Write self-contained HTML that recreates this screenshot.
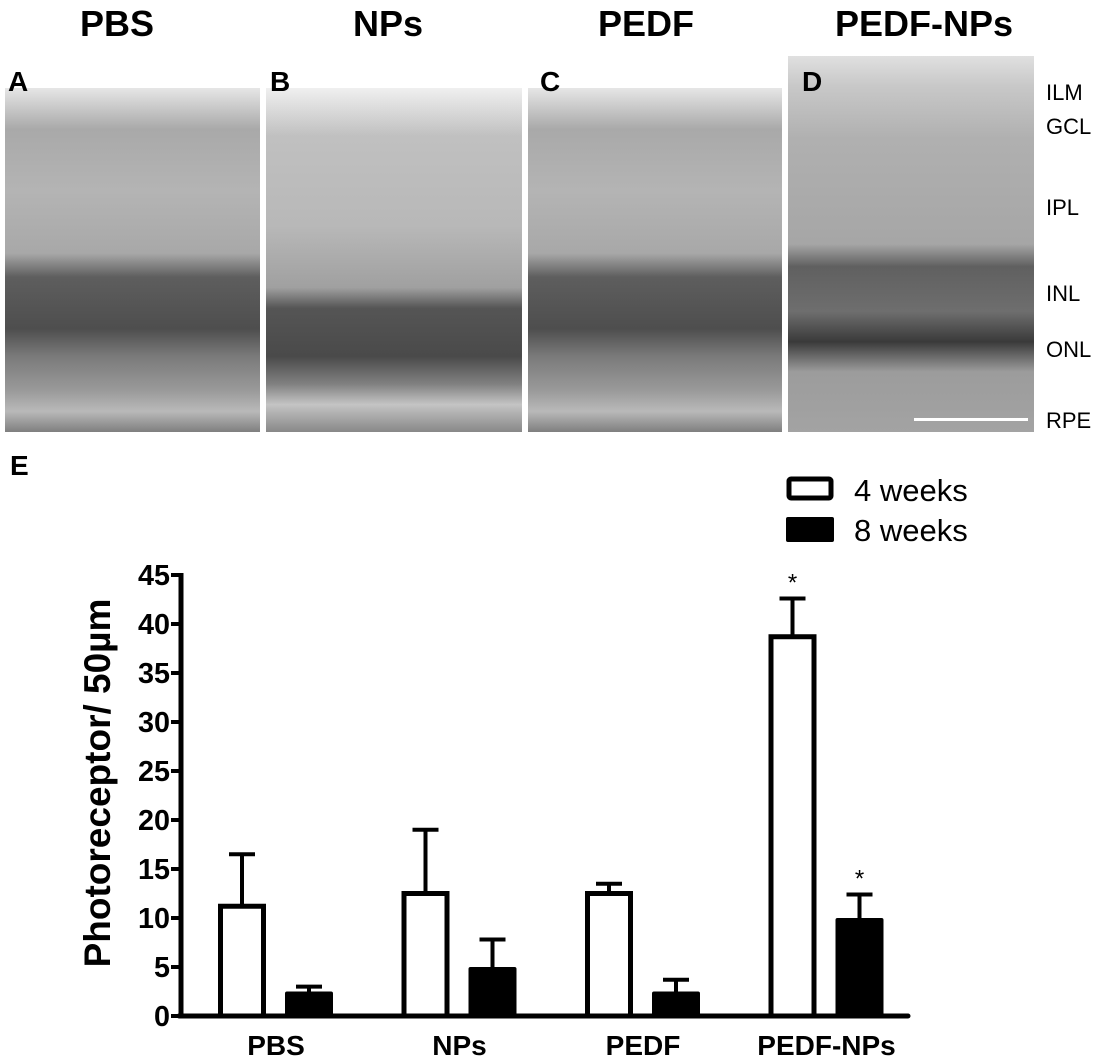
<!DOCTYPE html>
<html><head><meta charset="utf-8"><style>
body{margin:0;background:#fff;width:1112px;height:1060px;overflow:hidden;position:relative;font-family:"Liberation Sans",Arial,sans-serif}
.panel{position:absolute;top:88px;height:344px;background:linear-gradient(180deg,#e6e6e6 0%,#a9a9a9 12%,#b4b4b4 30%,#a8a8a8 48%,#5e5e5e 55%,#4e4e4e 70%,#7a7a7a 78%,#9a9a9a 88%,#b9b9b9 94%,#7f7f7f 100%)}
.t{position:absolute;font-weight:bold;font-size:36px;top:3px}
.l{position:absolute;font-weight:bold;font-size:28px;top:66px}
.r{position:absolute;left:1046px;font-size:22px}
</style></head><body>
<div class="t" style="left:80px">PBS</div>
<div class="t" style="left:353px">NPs</div>
<div class="t" style="left:598px">PEDF</div>
<div class="t" style="left:835px">PEDF-NPs</div>
<div class="panel" style="left:5px;width:255px"></div>
<div class="panel" style="left:266px;width:256px;background:linear-gradient(180deg,#f0f0f0 0%,#c0c0c0 14%,#b8b8b8 40%,#a0a0a0 58%,#555 64%,#4a4a4a 78%,#808080 86%,#c4c4c4 92%,#888 100%)"></div>
<div class="panel" style="left:528px;width:254px"></div>
<div class="panel" style="left:788px;width:246px;top:56px;height:376px;background:linear-gradient(180deg,#e0e0e0 0%,#c8c8c8 8%,#b0b0b0 22%,#a6a6a6 50%,#606060 56%,#6e6e6e 68%,#3a3a3a 76%,#9c9c9c 84%,#a3a3a3 100%)"></div>
<div style="position:absolute;left:914px;top:418px;width:114px;height:3px;background:#fff"></div>
<div class="l" style="left:8px">A</div>
<div class="l" style="left:270px">B</div>
<div class="l" style="left:540px">C</div>
<div class="l" style="left:802px">D</div>
<div class="r" style="top:80px">ILM</div>
<div class="r" style="top:114px">GCL</div>
<div class="r" style="top:195px">IPL</div>
<div class="r" style="top:281px">INL</div>
<div class="r" style="top:337px">ONL</div>
<div class="r" style="top:408px">RPE</div>
<div class="l" style="left:10px;top:450px">E</div>
<svg id="chart" width="1112" height="1060" style="position:absolute;left:0;top:0"></svg>
<script>
const categories=["PBS","NPs","PEDF","PEDF-NPs"];
const week4=[11.2,12.5,12.5,38.7];
const week4err=[5.3,6.5,1.0,3.9];
const week8=[2.5,5.0,2.5,10.0];
const week8err=[0.5,2.8,1.2,2.4];
const ticks=[0,5,10,15,20,25,30,35,40,45];
const sig4=[false,false,false,true];
const sig8=[false,false,false,true];
const NS="http://www.w3.org/2000/svg";
const svg=document.getElementById('chart');
const y0=1016,y45=575,ax=181,axEnd=908;
const y=v=>y0-(v/45)*(y0-y45);
const gx=i=>276+i*183.5;
function mk(t,a){const e=document.createElementNS(NS,t);for(const k in a)e.setAttribute(k,a[k]);svg.appendChild(e);return e;}
let e;
e=mk('line',{x1:ax,y1:y45-2,x2:ax,y2:y0+2,stroke:'#000','stroke-width':5});


e=mk('line',{x1:ax-2,y1:y0,x2:axEnd,y2:y0,stroke:'#000','stroke-width':5,'stroke-linecap':'round'});


ticks.forEach(t=>{
 e=mk('line',{x1:ax-10,y1:y(t),x2:ax,y2:y(t),stroke:'#000','stroke-width':4});
 
 
 e=mk('text',{x:ax-11,y:y(t)+10,'text-anchor':'end','font-size':29,'font-weight':'bold','font-family':'Liberation Sans, sans-serif','textLength':t>=10?32:16,'lengthAdjust':'spacingAndGlyphs'});
 e.textContent=t;
 
 
});
e=mk('text',{x:0,y:0,transform:'translate(110,783) rotate(-90)','text-anchor':'middle','font-size':37,'font-weight':'bold','font-family':'Liberation Sans, sans-serif'});
e.textContent='Photoreceptor/ 50µm';


const bw=43;
categories.forEach((c,i)=>{
 const c1=gx(i)-34,c2=gx(i)+33;
 e=mk('line',{x1:c1,y1:y(week4[i]),x2:c1,y2:y(week4[i]+week4err[i]),stroke:'#000','stroke-width':4});
 
 
 e=mk('line',{x1:c1-13,y1:y(week4[i]+week4err[i]),x2:c1+13,y2:y(week4[i]+week4err[i]),stroke:'#000','stroke-width':4});
 
 
 e=mk('rect',{x:c1-bw/2,y:y(week4[i]),width:bw,height:y0-y(week4[i]),fill:'#fff',stroke:'#000','stroke-width':5});
 
 
 e=mk('line',{x1:c2,y1:y(week8[i]),x2:c2,y2:y(week8[i]+week8err[i]),stroke:'#000','stroke-width':4});
 
 
 e=mk('line',{x1:c2-13,y1:y(week8[i]+week8err[i]),x2:c2+13,y2:y(week8[i]+week8err[i]),stroke:'#000','stroke-width':4});
 
 
 e=mk('rect',{x:c2-24,y:y(week8[i]),width:48,height:y0-y(week8[i]),fill:'#000',rx:2});
 
 
 if(sig4[i]){e=mk('text',{x:c1,y:y(week4[i]+week4err[i])-8,'text-anchor':'middle','font-size':24,'font-family':'Liberation Sans, sans-serif'});e.textContent='*';
 
 }
 if(sig8[i]){e=mk('text',{x:c2,y:y(week8[i]+week8err[i])-8,'text-anchor':'middle','font-size':24,'font-family':'Liberation Sans, sans-serif'});e.textContent='*';
 
 }
 e=mk('text',{x:gx(i),y:1055,'text-anchor':'middle','font-size':28,'font-weight':'bold','font-family':'Liberation Sans, sans-serif'});
 e.textContent=c;
 
 
});
e=mk('rect',{x:789,y:479,width:42,height:19,fill:'#fff',stroke:'#000','stroke-width':5,rx:2});


e=mk('rect',{x:786,y:517,width:48,height:25,fill:'#000',rx:2});


e=mk('text',{x:854,y:501,'font-size':31,'font-family':'Liberation Sans, sans-serif'});e.textContent='4 weeks';


e=mk('text',{x:854,y:541,'font-size':31,'font-family':'Liberation Sans, sans-serif'});e.textContent='8 weeks';


</script>
</body></html>
